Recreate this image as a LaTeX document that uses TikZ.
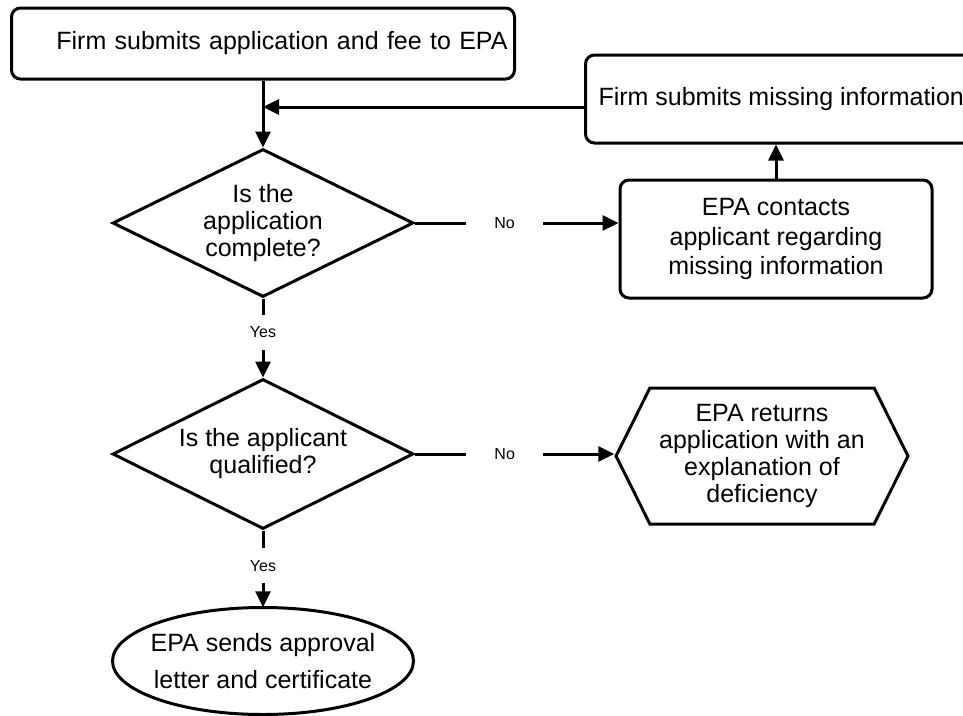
\documentclass[tikz,border=0pt]{standalone}
\usepackage{fontspec}
\setmainfont{Liberation Sans}
\usepackage{tikz}
\usetikzlibrary{arrows.meta,shapes}

\begin{document}
\begin{tikzpicture}[
  box/.style={draw,line width=3bp,rounded corners=9bp,align=center,font=\fontsize{25bp}{29.5bp}\selectfont},
  question/.style={draw,line width=3bp,diamond,aspect=2,inner sep=0pt,minimum width=301bp,minimum height=148bp,align=center,font=\fontsize{25bp}{27bp}\selectfont},
  flow/.style={-{Triangle[length=16bp,width=15bp]},line width=3bp},
  answer/.style={fill=white,inner xsep=28bp,inner ysep=12bp,font=\fontsize{16bp}{18bp}\selectfont}
]
\useasboundingbox (0bp,0bp) rectangle (963bp,-716bp);

\node (submit) at (263bp,-43.5bp)[box,minimum width=503bp,minimum height=71bp,text width=489bp,inner xsep=7bp,align=right] {Firm submits application and fee to EPA};
\node (missing) at (584bp,-99bp)[box,anchor=west,minimum height=88bp,inner xsep=13bp] {Firm submits missing information};
\node (contacts) at (776bp,-239bp)[box,minimum width=312bp,minimum height=118bp] {EPA contacts\\applicant regarding\\missing information};
\node (complete) at (263bp,-223bp)[question] {Is the\\application\\complete?};
\node (qualified) at (263bp,-454bp)[question,minimum height=150bp] {Is the applicant\\qualified?};
\node (returns) at (762bp,-456bp)[draw,line width=3bp,signal,signal to=west and east,signal pointer angle=127,minimum width=292bp,minimum height=136bp,inner sep=0pt,align=center,font=\fontsize{25bp}{27bp}\selectfont] {EPA returns\\application with an\\explanation of\\deficiency};
\node (approval) at (263bp,-661bp)[minimum width=301bp,minimum height=107bp,inner sep=0pt,align=center,font=\fontsize{25bp}{37bp}\selectfont] {EPA sends approval\\letter and certificate};
\draw [line width=3bp] (approval.center) ellipse (150.5bp and 53.5bp);
\coordinate (join) at (263bp,-107bp);

\draw [line width=3bp] (submit) -- (join);
\draw [flow] (join) -- (complete);
\draw [flow] (missing.west |- join) -- (join);
\draw [flow] (contacts.north) -- (contacts.north |- missing.south);
\draw [flow] (complete.east) -- node[answer,pos=0.44] {No} (complete.east -| contacts.west);
\draw [flow] (complete) -- node[answer,pos=0.43] {Yes} (qualified);
\draw [flow] (qualified.east) -- node[answer,pos=0.45] {No} (qualified.east -| returns.west);
\draw [flow] (qualified) -- node[answer,pos=0.46] {Yes} (approval);
\end{tikzpicture}
\end{document}
